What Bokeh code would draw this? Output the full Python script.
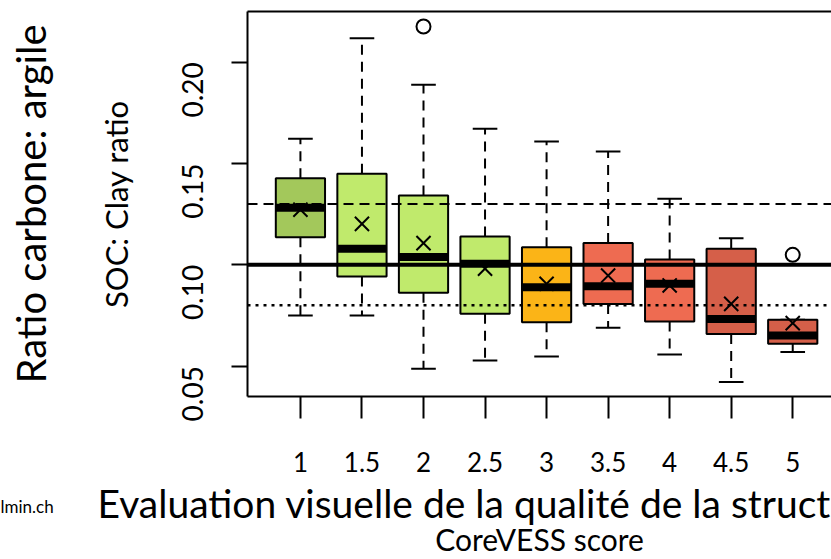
import math

from bokeh.plotting import figure
from bokeh.models import (FixedTicker, LinearAxis, Span, Title, Range1d,
                          NumeralTickFormatter)
from bokeh.embed import file_html
from bokeh.resources import INLINE

# CoreVESS score classes and the SOC:clay distribution in each class
scores = ["1", "1.5", "2", "2.5", "3", "3.5", "4", "4.5", "5"]
whisker_low = [0.0750, 0.0750, 0.0487, 0.0528, 0.0547, 0.0689, 0.0557, 0.0421, 0.0569]
q1 = [0.1136, 0.0942, 0.0862, 0.0758, 0.0717, 0.0807, 0.0720, 0.0659, 0.0610]
median = [0.1281, 0.1079, 0.1038, 0.1005, 0.0889, 0.0894, 0.0906, 0.0733, 0.0651]
q3 = [0.1427, 0.1449, 0.1342, 0.1140, 0.1087, 0.1107, 0.1026, 0.1079, 0.0729]
whisker_high = [0.1622, 0.2118, 0.1888, 0.1671, 0.1609, 0.1559, 0.1326, 0.1131, 0.0729]
means = [0.1272, 0.1202, 0.1107, 0.0981, 0.0906, 0.0947, 0.0898, 0.0807, 0.0712]

# single points beyond the whiskers
outlier_scores = ["2", "5"]
outlier_values = [0.2176, 0.1049]

# reference thresholds of the SOC:clay ratio
ref_good = 0.13
ref_acceptable = 0.10
ref_poor = 0.08

y_ticks = [0.05, 0.10, 0.15, 0.20]

box_colors = ["#a3c85b", "#c0ea6c", "#c0ea6c", "#c0ea6c", "#fbb417",
              "#ee6b51", "#ee6b51", "#d55f49", "#d55f49"]

pos = list(range(1, len(scores) + 1))
pos_of = dict(zip(scores, pos))
half_box = 0.4
half_cap = 0.2

FONT = "Lato"

p = figure(width=831, height=559,
           x_range=Range1d(0.14, 9.63), y_range=Range1d(0.035, 0.225),
           output_backend="svg", toolbar_location=None,
           min_border_left=247, min_border_right=0,
           min_border_top=11, min_border_bottom=163)
p.grid.visible = False
p.outline_line_color = None
p.background_fill_color = "white"
p.border_fill_color = "white"


def bare_axis(**kw):
    """An axis without visible ticks or tick labels."""
    opts = dict(ticker=FixedTicker(ticks=[]), major_tick_out=0, major_tick_in=0,
                minor_tick_out=0, minor_tick_in=0, major_label_standoff=0,
                major_label_text_font_size="0px", axis_line_color=None)
    opts.update(kw)
    return LinearAxis(**opts)


# x axis: one tick per score class
xa = p.xaxis[0]
xa.ticker = FixedTicker(ticks=pos)
xa.major_label_overrides = {x: s for x, s in zip(pos, scores)}
xa.minor_tick_line_color = None
xa.major_tick_out = 22
xa.major_tick_in = 0
xa.major_tick_line_width = 2
xa.axis_line_width = 2
xa.major_label_standoff = 33
xa.major_label_text_font = FONT
xa.major_label_text_font_size = "26px"
xa.major_label_text_color = "black"

# y axis with rotated tick labels
ya = p.yaxis[0]
ya.ticker = FixedTicker(ticks=y_ticks)
ya.formatter = NumeralTickFormatter(format="0.00")
ya.minor_tick_line_color = None
ya.major_tick_out = 16
ya.major_tick_in = 0
ya.major_tick_line_width = 2
ya.axis_line_width = 2
ya.major_label_orientation = math.pi / 2
ya.major_label_standoff = 39
ya.major_label_text_font = FONT
ya.major_label_text_font_size = "28px"
ya.major_label_text_color = "black"
ya.axis_label = "SOC: Clay ratio"
ya.axis_label_text_font = FONT
ya.axis_label_text_font_size = "31px"
ya.axis_label_text_font_style = "normal"
ya.axis_label_text_color = "black"
ya.axis_label_standoff = 34

# top border of the plotting box
p.add_layout(bare_axis(axis_line_color="black", axis_line_width=2), "above")

# French caption on the left
p.add_layout(bare_axis(axis_label="Ratio carbone: argile", axis_label_standoff=39,
                       axis_label_text_font=FONT,
                       axis_label_text_font_size="40px",
                       axis_label_text_font_style="normal",
                       axis_label_text_color="black"), "left")

# gap between the score labels and the captions underneath
gap = bare_axis(ticker=FixedTicker(ticks=[0.3]), major_tick_out=27,
                major_tick_line_color="white", major_label_overrides={0.3: ""})
p.add_layout(gap, "below")

p.add_layout(Title(text="Evaluation visuelle de la qualité de la struct",
                   align="left", offset=-150, vertical_align="middle",
                   standoff=-45, text_font=FONT, text_font_size="39px",
                   text_font_style="normal", text_color="black"), "below")
p.add_layout(Title(text="lmin.ch", align="left", offset=-247,
                   vertical_align="middle", standoff=-20, text_font=FONT,
                   text_font_size="17px", text_font_style="normal",
                   text_color="black"), "below")
p.add_layout(bare_axis(axis_label="CoreVESS score", axis_label_standoff=13,
                       axis_label_text_font=FONT,
                       axis_label_text_font_size="30px",
                       axis_label_text_font_style="normal",
                       axis_label_text_color="black"), "below")

# whiskers and staples
p.segment(x0=pos, y0=q3, x1=pos, y1=whisker_high, line_color="black",
          line_width=2, line_dash="10 7")
p.segment(x0=pos, y0=q1, x1=pos, y1=whisker_low, line_color="black",
          line_width=2, line_dash="10 7")
p.segment(x0=[x - half_cap for x in pos], x1=[x + half_cap for x in pos],
          y0=whisker_high, y1=whisker_high, line_color="black", line_width=2)
p.segment(x0=[x - half_cap for x in pos], x1=[x + half_cap for x in pos],
          y0=whisker_low, y1=whisker_low, line_color="black", line_width=2)

# boxes and medians
p.vbar(x=pos, width=2 * half_box, bottom=q1, top=q3, fill_color=box_colors,
       line_color="black", line_width=2)
p.segment(x0=[x - half_box for x in pos], x1=[x + half_box for x in pos],
          y0=median, y1=median, line_color="black", line_width=8, line_cap="butt")

# means and outliers
p.scatter(x=pos, y=means, marker="x", size=20, line_color="black", line_width=2)
p.scatter(x=[pos_of[s] for s in outlier_scores], y=outlier_values, marker="circle",
          size=14, fill_color=None, line_color="black", line_width=2)

# threshold lines
p.add_layout(Span(location=ref_good, dimension="width", line_color="black",
                  line_width=2, line_dash="10 6"))
p.add_layout(Span(location=ref_acceptable, dimension="width", line_color="black",
                  line_width=4))
p.add_layout(Span(location=ref_poor, dimension="width", line_color="black",
                  line_width=2.5, line_dash="3 5"))

open("out.html", "w").write(file_html(p, INLINE))
